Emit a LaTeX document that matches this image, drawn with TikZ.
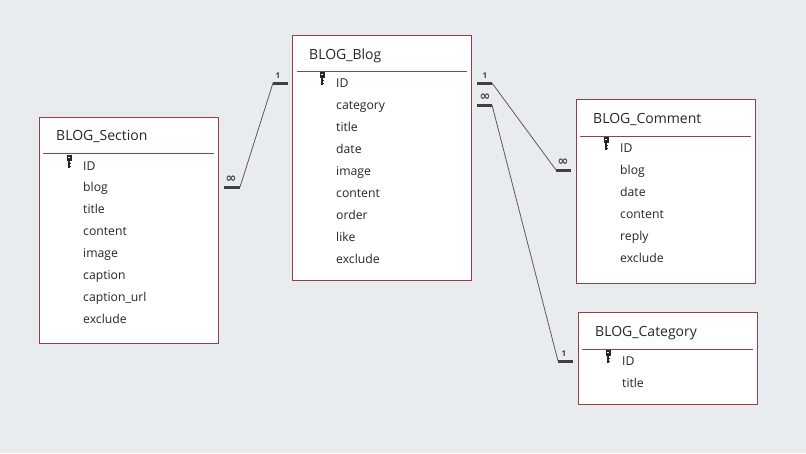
\documentclass[tikz,border=0pt]{standalone}
\usepackage{fontspec}
\setmainfont{Open Sans}
\newfontfamily\symfont{DejaVu Sans}
\definecolor{bg}{HTML}{E9ECEF}
\definecolor{brd}{HTML}{96404A}
\definecolor{txt}{HTML}{262626}
\definecolor{stubc}{HTML}{404040}
\definecolor{linec}{HTML}{5A5A5A}
\tikzset{
  tbl/.style={draw=brd, line width=0.9pt, fill=white, anchor=north west, inner sep=0pt},
  sepline/.style={draw=brd, line width=0.9pt},
  ttl/.style={anchor=base west, inner sep=0pt, text=txt, font=\fontsize{14}{16}\selectfont},
  fld/.style={anchor=base west, inner sep=0pt, text=txt, font=\fontsize{12.2}{14}\selectfont},
  stub/.style={draw=stubc, line width=3pt},
  rel/.style={draw=linec, line width=0.8pt},
  card/.style={inner sep=0pt, text=stubc, font=\bfseries\fontsize{8}{9}\selectfont},
  infcard/.style={inner sep=0pt, text=stubc, font=\symfont\bfseries\fontsize{13}{13}\selectfont},
}
\newcommand{\pkey}[1]{%
  \begin{scope}[shift={#1}]
    \fill[txt] (-2.5,-11) rectangle (2.5,-5);
    \fill[white] (-0.8,-9.5) rectangle (0.8,-8);
    \fill[txt] (-1.3,-5) rectangle (0.8,2);
    \fill[txt] (0.8,-3) rectangle (2,-2);
    \fill[txt] (0.8,-0.5) rectangle (2,0.5);
  \end{scope}}
\begin{document}
\begin{tikzpicture}[x=1pt,y=-1pt]
\fill[bg] (0,0) rectangle (806,453);
\useasboundingbox (0,0) rectangle (806,453);

% BLOG_Section
\node[tbl, minimum width=179pt, minimum height=226pt] (sec) at (39,117) {};
\node[ttl] (sec-t) at (56,140) {BLOG\_Section};
\draw[sepline] (43,153) -- (214,153);
\pkey{(69,166)}
\node[fld] (sec-id) at (83,170.5) {ID};
\node[fld] (sec-blog) at (83,191.5) {blog};
\node[fld] at (83,213.5) {title};
\node[fld] at (83,235.5) {content};
\node[fld] at (83,257.5) {image};
\node[fld] at (83,279.5) {caption};
\node[fld] at (83,301.5) {caption\_url};
\node[fld] at (83,323.5) {exclude};

% BLOG_Blog
\node[tbl, minimum width=179pt, minimum height=245pt] (blog) at (292,35) {};
\node[ttl] (blog-t) at (309,59) {BLOG\_Blog};
\draw[sepline] (297,71) -- (467,71);
\pkey{(322,83)}
\node[fld] (blog-id) at (336,87.5) {ID};
\node[fld] (blog-cat) at (336,109.5) {category};
\node[fld] at (336,131.5) {title};
\node[fld] at (336,153.5) {date};
\node[fld] at (336,175.5) {image};
\node[fld] at (336,197.5) {content};
\node[fld] at (336,219.5) {order};
\node[fld] at (336,241.5) {like};
\node[fld] at (336,263.5) {exclude};

% BLOG_Comment
\node[tbl, minimum width=179pt, minimum height=184pt] (com) at (576,99) {};
\node[ttl] (com-t) at (593,123) {BLOG\_Comment};
\draw[sepline] (580,136) -- (751,136);
\pkey{(606,148)}
\node[fld] (com-id) at (620,152.5) {ID};
\node[fld] (com-blog) at (620,174.5) {blog};
\node[fld] at (620,196.5) {date};
\node[fld] at (620,218.5) {content};
\node[fld] at (620,240.5) {reply};
\node[fld] at (620,262.5) {exclude};

% BLOG_Category
\node[tbl, minimum width=179pt, minimum height=92pt] (cat) at (578,312) {};
\node[ttl] (cat-t) at (595,336) {BLOG\_Category};
\draw[sepline] (582,349) -- (753,349);
\pkey{(608,361)}
\node[fld] (cat-id) at (622,365.5) {ID};
\node[fld] at (622,387.5) {title};

% relationship end points
\coordinate (r1a) at (224,187); \coordinate (r1b) at (240,187);
\coordinate (r1c) at (273,83);  \coordinate (r1d) at (288,83);
\coordinate (r2a) at (477,83);  \coordinate (r2b) at (492,83);
\coordinate (r2c) at (556,170); \coordinate (r2d) at (571,170);
\coordinate (r3a) at (477,105); \coordinate (r3b) at (492,105);
\coordinate (r3c) at (558,361); \coordinate (r3d) at (573,361);

% Section.blog -> Blog.ID
\draw[stub] (r1a) -- (r1b);
\draw[rel] (r1b) -- (r1c);
\draw[stub] (r1c) -- (r1d);
\node[infcard] at (231,179) {∞};
\node[card] at (278,76) {1};

% Blog.ID -> Comment.blog
\draw[stub] (r2a) -- (r2b);
\draw[rel] (r2b) -- (r2c);
\draw[stub] (r2c) -- (r2d);
\node[card] at (485,76) {1};
\node[infcard] at (563,162) {∞};

% Blog.category -> Category.ID
\draw[stub] (r3a) -- (r3b);
\draw[rel] (r3b) -- (r3c);
\draw[stub] (r3c) -- (r3d);
\node[infcard] at (485,97) {∞};
\node[card] at (564,354) {1};
\end{tikzpicture}
\end{document}
